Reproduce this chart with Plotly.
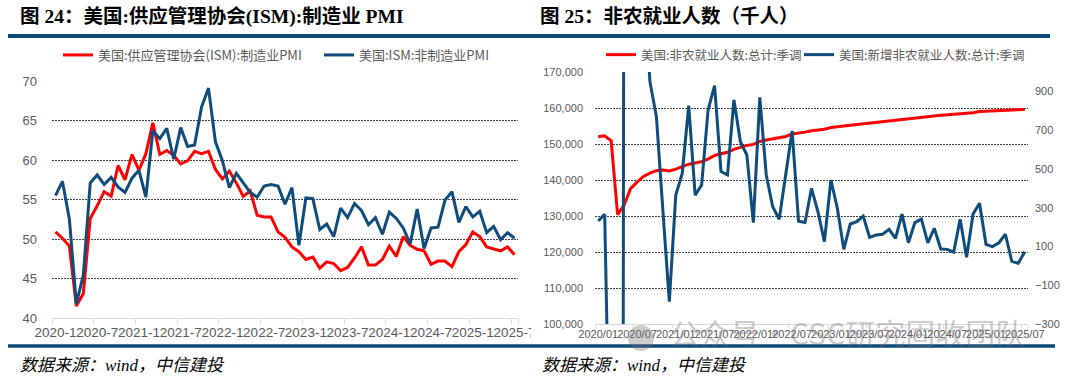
import plotly.graph_objects as go

W, H = 1073, 381

# ---------------- data: left chart (ISM PMI) ----------------
months_pmi = [f"{y}-{m}" for y in range(2020, 2026) for m in range(1, 13)][:67]
pmi_ticks = months_pmi[::6]

ism_mfg = [50.9, 50.1, 49.1, 41.5, 43.1, 52.6, 54.2, 56.0, 55.4, 59.3, 57.5, 60.7,
           58.7, 60.8, 64.7, 60.7, 61.2, 60.6, 59.5, 59.9, 61.1, 60.8, 61.1, 58.8,
           57.6, 58.6, 57.1, 55.4, 56.1, 53.0, 52.8, 52.8, 50.9, 50.2, 49.0, 48.4,
           47.4, 47.7, 46.3, 47.1, 46.9, 46.0, 46.4, 47.6, 49.0, 46.7, 46.7, 47.4,
           49.1, 47.8, 50.3, 49.2, 48.7, 48.5, 46.8, 47.2, 47.2, 46.5, 48.4, 49.3,
           50.9, 50.3, 49.0, 48.7, 48.5, 49.0, 48.0]

ism_svc = [55.5, 57.3, 52.5, 41.8, 45.4, 57.1, 58.1, 56.9, 57.8, 56.6, 55.9, 57.7,
           58.7, 55.3, 63.7, 62.7, 64.0, 60.1, 64.1, 61.7, 61.9, 66.7, 69.1, 62.3,
           59.9, 56.5, 58.3, 57.1, 55.9, 55.3, 56.7, 56.9, 56.7, 54.4, 56.5, 49.2,
           55.2, 55.1, 51.2, 51.9, 50.3, 53.9, 52.7, 54.5, 53.6, 51.8, 52.7, 50.6,
           53.4, 52.6, 51.4, 49.4, 53.8, 48.8, 51.4, 51.5, 54.9, 56.0, 52.1, 54.1,
           52.8, 53.5, 50.8, 51.6, 49.9, 50.8, 50.1]

# ---------------- data: right chart (nonfarm payrolls, thousands) ----------------
months_nfp = [f"{y}/{m:02d}" for y in range(2020, 2026) for m in range(1, 13)][:67]
nfp_ticks = months_nfp[::6]

nfp_total = [152030, 152300, 150900, 130400, 133000, 137600, 139400, 141000, 141900, 142600, 142800, 142500,
             143000, 143700, 144400, 144700, 145100, 145800, 146800, 147300, 147700, 148500, 149100, 149600,
             149900, 150700, 151100, 151400, 151700, 152100, 152800, 153000, 153300, 153700, 153900, 154100,
             154600, 154900, 155000, 155200, 155400, 155700, 155900, 156100, 156300, 156500, 156700, 157000,
             157100, 157300, 157600, 157700, 157900, 158000, 158100, 158200, 158400, 158400, 158700, 159000,
             159100, 159200, 159300, 159500, 159500, 159500, 159600]

nfp_change = [231, 266, -1400, -20500, 2700, 4600, 1700, 1500, 950, 770, 288, -185,
              365, 477, 826, 365, 417, 804, 930, 486, 469, 856, 640, 572,
              223, 869, 469, 305, 240, 469, 696, 230, 224, 400, 279, 125,
              443, 297, 85, 216, 228, 257, 147, 159, 163, 188, 142, 267,
              119, 223, 242, 119, 194, 87, 85, 71, 240, 44, 267, 323,
              111, 99, 119, 163, 23, 13, 73]

right_ticks = [-300, -100, 100, 300, 500, 700, 900]

RED = "#FF0000"
BLUE = "#0F4C7C"
RULE = "#0D4A78"
GRAY = "#595959"
GRID = "#404040"
SANS = "Liberation Sans, Arial, sans-serif"
CJK = "Noto Sans CJK SC, sans-serif"


def px(x):
    return x / W


def py(y):
    return 1 - y / H


fig = go.Figure()
fig.add_trace(go.Scatter(x=months_pmi, y=ism_mfg, name="美国:供应管理协会(ISM):制造业PMI",
                         mode="lines", line=dict(color=RED, width=3),
                         xaxis="x", yaxis="y", legend="legend"))
fig.add_trace(go.Scatter(x=months_pmi, y=ism_svc, name="美国:ISM:非制造业PMI",
                         mode="lines", line=dict(color=BLUE, width=3),
                         xaxis="x", yaxis="y", legend="legend2"))
fig.add_trace(go.Scatter(x=months_nfp, y=nfp_total, name="美国:非农就业人数:总计:季调",
                         mode="lines", line=dict(color=RED, width=3),
                         xaxis="x2", yaxis="y2", legend="legend3"))
fig.add_trace(go.Scatter(x=months_nfp, y=nfp_change, name="美国:新增非农就业人数:总计:季调",
                         mode="lines", line=dict(color=BLUE, width=3),
                         xaxis="x2", yaxis="y3", legend="legend4"))

xcommon = dict(type="category", range=[-0.5, 66.5], showgrid=False, zeroline=False,
               showline=True, linecolor="#D9D9D9", linewidth=1,
               ticks="outside", tickcolor="#D9D9D9", tickson="boundaries",
               tickmode="array", tickangle=0)

legend_common = dict(orientation="h", xanchor="left", yanchor="middle", bgcolor="rgba(0,0,0,0)",
                     borderwidth=0)

fig.update_layout(
    width=W, height=H, autosize=False,
    margin=dict(l=0, r=0, t=0, b=0, autoexpand=False),
    paper_bgcolor="white", plot_bgcolor="white",
    showlegend=True,
    xaxis=dict(**xcommon, domain=[px(52), px(518)], anchor="y",
               tickvals=pmi_ticks, ticktext=pmi_ticks, ticklen=5, ticklabelstandoff=2,
               tickfont=dict(family=SANS, size=13.5, color=GRAY)),
    yaxis=dict(domain=[py(318), py(81)], anchor="x", range=[40, 70], dtick=5,
               showgrid=True, gridcolor=GRID, griddash="2px,1px", gridwidth=1,
               zeroline=False, showline=False, ticks="", ticklabelstandoff=14,
               tickfont=dict(family=SANS, size=13, color=GRAY)),
    xaxis2=dict(**xcommon, domain=[px(595), px(1028)], anchor="y2",
                tickvals=nfp_ticks, ticktext=nfp_ticks, ticklen=3, ticklabelstandoff=0,
                tickfont=dict(family=SANS, size=11, color=GRAY)),
    yaxis2=dict(domain=[py(324), py(72)], anchor="x2", range=[100000, 170000], dtick=10000,
                tickformat=",", showgrid=True, gridcolor=GRID, griddash="2px,1px", gridwidth=1,
                zeroline=False, showline=False, ticks="", ticklabelstandoff=11,
                tickfont=dict(family=SANS, size=11, color=GRAY)),
    yaxis3=dict(overlaying="y2", side="right", anchor="x2", range=[-300, 1000],
                tickmode="array", tickvals=right_ticks, showgrid=False, zeroline=False,
                showline=False, ticks="", ticklabelstandoff=6,
                tickfont=dict(family=SANS, size=11, color=GRAY)),
    legend=dict(**legend_common, x=px(58), y=py(55), font=dict(family=CJK, size=13, color=GRAY)),
    legend2=dict(**legend_common, x=px(319), y=py(55), font=dict(family=CJK, size=13, color=GRAY)),
    legend3=dict(**legend_common, x=px(601), y=py(55), font=dict(family=CJK, size=12.5, color=GRAY)),
    legend4=dict(**legend_common, x=px(799), y=py(55), font=dict(family=CJK, size=12.5, color=GRAY)),
)

TITLE_FONT = "Liberation Serif, Noto Sans CJK SC, serif"
annotations = [
    dict(text="<b>图 24：美国:供应管理协会(ISM):制造业 PMI</b>", x=px(18), y=py(16),
         font=dict(family=TITLE_FONT, size=19.5, color="black")),
    dict(text="<b>图 25：非农就业人数（千人）</b>", x=px(538), y=py(16),
         font=dict(family=TITLE_FONT, size=19.5, color="black")),
    dict(text="<i>数据来源：wind，中信建投</i>", x=px(18), y=py(365),
         font=dict(family=TITLE_FONT, size=17, color="black")),
    dict(text="<i>数据来源：wind，中信建投</i>", x=px(540), y=py(365),
         font=dict(family=TITLE_FONT, size=17, color="black")),
]
for a in annotations:
    a.update(xref="paper", yref="paper", xanchor="left", yanchor="middle", showarrow=False)

# watermark
annotations.append(dict(text="公众号·CSC研究固收团队", x=px(668), y=py(332), xref="paper", yref="paper",
                        xanchor="left", yanchor="middle", showarrow=False, opacity=0.35,
                        font=dict(family=CJK, size=30, color="#707070")))
fig.update_layout(annotations=annotations)

shapes = [
    dict(type="line", x0=px(8), x1=px(535), y0=py(36), y1=py(36), line=dict(color=RULE, width=4)),
    dict(type="line", x0=px(535), x1=px(1050), y0=py(36), y1=py(36), line=dict(color=RULE, width=4)),
    # clip of the left chart's last axis label at the panel edge
    dict(type="rect", x0=px(531), x1=px(538), y0=py(343), y1=py(322),
         fillcolor="white", line=dict(width=0)),
    dict(type="line", x0=px(8), x1=px(535), y0=py(346), y1=py(346), line=dict(color=RULE, width=3.5)),
    dict(type="line", x0=px(535), x1=px(1055), y0=py(346), y1=py(346), line=dict(color=RULE, width=3.5)),
    dict(type="circle", x0=px(628), x1=px(654), y0=py(325), y1=py(351),
         fillcolor="rgba(112,112,112,0.35)", line=dict(width=0)),
]
for s in shapes:
    s.update(xref="paper", yref="paper", layer="above")
fig.update_layout(shapes=shapes)

fig.write_html("out.html", config={"displayModeBar": False},
               post_script="document.body.style.margin='0';document.body.style.overflow='hidden';")
